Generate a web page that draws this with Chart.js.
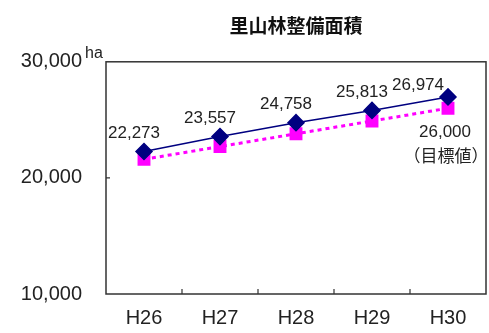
<!DOCTYPE html>
<html lang="ja">
<head>
<meta charset="utf-8">
<script src="https://cdn.jsdelivr.net/npm/chart.js@4/dist/chart.umd.min.js"></script>
<style>
  html, body { margin: 0; padding: 0; background: #fff; overflow: hidden; }
  #wrap { position: relative; width: 496px; height: 333px; }
</style>
</head>
<body>
<div id="wrap"><canvas id="c" width="496" height="333"></canvas></div>
<script>
// 里山林整備面積 (ha)
const years = ['H26', 'H27', 'H28', 'H29', 'H30'];
const actual = [22273, 23557, 24758, 25813, 26974];
const target = [21600, 22700, 23800, 24900, 26000];
const yTicks = [10000, 20000, 30000];
const titleText = '里山林整備面積';
const unitText = 'ha';
const targetNote = '（目標値）';

const INK = '#222222';
const NAVY = '#000080';
const MAGENTA = '#ff00ff';
const fmt = v => v.toLocaleString('en-US');

// frame, inward tick marks, value labels and notes
const decor = {
  id: 'decor',
  afterDraw(chart) {
    const { ctx, chartArea: a, scales: { x, y } } = chart;
    ctx.save();
    ctx.strokeStyle = '#333';
    ctx.lineWidth = 1.5;
    ctx.strokeRect(a.left, a.top, a.right - a.left, a.bottom - a.top);

    ctx.lineWidth = 1.2;
    ctx.beginPath();
    for (let i = 0; i < years.length - 1; i++) {
      const px = (x.getPixelForValue(i) + x.getPixelForValue(i + 1)) / 2;
      ctx.moveTo(px, a.bottom);
      ctx.lineTo(px, a.bottom - 5);
    }
    yTicks.forEach(t => {
      const py = y.getPixelForValue(t);
      if (py > a.top + 1 && py < a.bottom - 1) {
        ctx.moveTo(a.left, py);
        ctx.lineTo(a.left + 4, py);
      }
    });
    ctx.stroke();

    ctx.fillStyle = INK;
    ctx.font = '17px "Liberation Sans", Arial, sans-serif';
    ctx.textAlign = 'center';
    ctx.textBaseline = 'middle';
    const meta = chart.getDatasetMeta(0);
    actual.forEach((v, i) => {
      const p = meta.data[i];
      const last = i === actual.length - 1;
      ctx.fillText(fmt(v), p.x + (last ? -30 : -10), p.y + (last ? -12 : -18));
    });

    const tp = chart.getDatasetMeta(1).data[target.length - 1];
    ctx.fillText(fmt(target[target.length - 1]), tp.x - 3, tp.y + 24);
    ctx.font = '17px "Noto Sans CJK JP", sans-serif';
    ctx.fillText(targetNote, tp.x - 2, tp.y + 47);

    ctx.font = '16px "Liberation Sans", Arial, sans-serif';
    ctx.textAlign = 'left';
    ctx.fillText(unitText, 85, 54);
    ctx.restore();
  }
};

new Chart(document.getElementById('c'), {
  type: 'line',
  data: {
    labels: years,
    datasets: [
      {
        label: '実績',
        data: actual,
        borderColor: NAVY,
        backgroundColor: NAVY,
        borderWidth: 1.5,
        pointStyle: 'rectRot',
        pointRadius: 8,
        pointHoverRadius: 8,
        tension: 0
      },
      {
        label: '目標値',
        data: target,
        borderColor: MAGENTA,
        backgroundColor: MAGENTA,
        borderWidth: 3,
        borderDash: [4, 4],
        pointStyle: 'rect',
        pointRadius: 7,
        pointHoverRadius: 7,
        tension: 0
      }
    ]
  },
  options: {
    responsive: false,
    animation: false,
    events: [],
    layout: { padding: { left: 0, right: 2, top: 0, bottom: 0 } },
    plugins: {
      legend: { display: false },
      tooltip: { enabled: false },
      title: {
        display: true,
        text: titleText,
        fullSize: false,
        color: '#111',
        font: { family: '"Noto Sans CJK JP", sans-serif', size: 19, weight: 'bold' },
        padding: { top: 14, bottom: 25 }
      }
    },
    scales: {
      x: {
        offset: true,
        grid: { display: false, drawTicks: false },
        border: { display: false },
        ticks: {
          color: INK,
          padding: 12,
          font: { family: '"Liberation Sans", Arial, sans-serif', size: 20 }
        },
        afterFit(s) { s.height = 39; }
      },
      y: {
        min: 10000,
        max: 30000,
        grid: { display: false, drawTicks: false },
        border: { display: false },
        afterBuildTicks(s) { s.ticks = yTicks.map(v => ({ value: v })); },
        ticks: {
          color: INK,
          padding: 24,
          font: { family: '"Liberation Sans", Arial, sans-serif', size: 20 },
          callback: v => fmt(v)
        },
        afterFit(s) { s.width = 106; }
      }
    }
  },
  plugins: [decor]
});
</script>
</body>
</html>
